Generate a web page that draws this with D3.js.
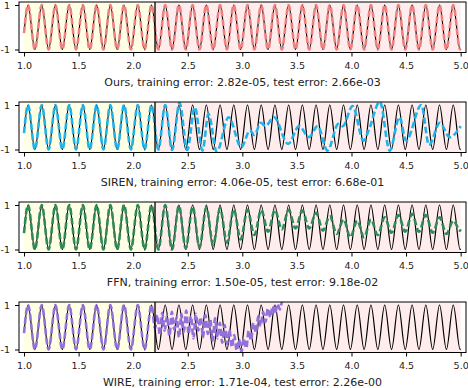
<!doctype html>
<meta charset="utf-8">

<style>
    body {
        margin: 0;
        background: #fff;
    }

    svg {
        display: block;
    }

    text {
        font-family: "DejaVu Sans", sans-serif;
        fill: #222;
    }
</style>

<div id="chart"></div>

<script src="https://cdn.jsdelivr.net/npm/d3@7"></script>

<script>

// target wave: x positions of its crests and troughs
let truthPeaks = [1.0367, 1.1624, 1.2881, 1.4137, 1.5394, 1.6650, 1.7907, 1.9164,
    2.0420, 2.1677, 2.2934, 2.4190, 2.5447, 2.6704, 2.7960, 2.9217, 3.0473, 3.1730,
    3.2987, 3.4243, 3.5500, 3.6757, 3.8013, 3.9270, 4.0527, 4.1783, 4.3040, 4.4296,
    4.5553, 4.6810, 4.8066, 4.9323]
let truthTroughs = [1.0996, 1.2252, 1.3509, 1.4765, 1.6022, 1.7279, 1.8535, 1.9792,
    2.1049, 2.2305, 2.3562, 2.4819, 2.6075, 2.7332, 2.8588, 2.9845, 3.1102, 3.2358,
    3.3615, 3.4872, 3.6128, 3.7385, 3.8642, 3.9898, 4.1155, 4.2412, 4.3668, 4.4925,
    4.6181, 4.7438, 4.8695, 4.9951]
let truthStart = [1.0, -0.26]
let truthEnd = [5.0, -0.97]

let splitX = 2.2
let xTicks = [1.0, 1.5, 2.0, 2.5, 3.0, 3.5, 4.0, 4.5, 5.0]
let yTicks = [-1, 1]

let models = ["Ours", "SIREN", "FFN", "WIRE"]
let trainErrors = ["2.82e-05", "4.06e-05", "1.50e-05", "1.71e-04"]
let testErrors = ["2.66e-03", "6.68e-01", "9.18e-02", "2.26e-00"]
let colors = ["#f08080", "#1fb3ec", "#2e8b57", "#9370db"]

// test side (x > 2.2) of each prediction; the training side follows the target
// FFN keeps the phase, only the crest / trough heights change
let ffnPeakY = [1.0, 0.97, 0.93, 0.9, 0.85, 0.8, 0.78, 0.78, 0.78, 0.78, 0.75,
    0.65, 0.5, 0.35, 0.3, 0.35, 0.45, 0.55, 0.6, 0.55, 0.45, 0.3]
let ffnTroughY = [-1.0, -1.0, -0.95, -0.9, -0.8, -0.7, -0.55, -0.35, -0.2, -0.1,
    -0.05, -0.05, -0.15, -0.3, -0.45, -0.45, -0.35, -0.25, -0.2, -0.2, -0.25, -0.3, -0.15]
let ffnEnd = [5.0, -0.1]

let sirenTest = [[2.2305, -1.0], [2.2934, 1.0], [2.3562, -1.02], [2.425, 1.1],
    [2.495, -1.02], [2.565, 0.9], [2.635, -1.05], [2.69, 0.6], [2.765, -1.1],
    [2.875, 0.45], [2.99, -0.9], [3.07, -0.15], [3.11, -0.35], [3.17, 0.2],
    [3.21, 0.05], [3.29, 0.45], [3.42, -0.75], [3.52, 0.05], [3.61, -0.45],
    [3.69, 0.05], [3.78, -1.05], [3.88, 0.15], [3.92, 0.05], [4.01, 0.95],
    [4.11, -0.6], [4.16, -0.1], [4.26, 1.15], [4.35, -1.05], [4.44, 0.45],
    [4.50, -0.6], [4.64, 1.0], [4.71, -0.8], [4.81, 0.2], [4.90, -0.45], [5.0, 0.05]]

// WIRE breaks into a jagged scribble and leaves the top of the axes near x = 3.37
let wireTest = [[2.200, -0.05], [2.222, 0.55], [2.244, -0.35], [2.266, 0.65],
    [2.288, -0.15], [2.310, 0.5], [2.332, -0.4], [2.354, 0.7], [2.376, -0.1],
    [2.398, 0.45], [2.420, -0.45], [2.442, 0.6], [2.464, -0.2], [2.486, 0.75],
    [2.508, -0.3], [2.530, 0.5], [2.552, -0.5], [2.574, 0.6], [2.596, -0.15],
    [2.618, 0.45], [2.640, -0.45], [2.662, 0.55], [2.684, -0.3], [2.706, 0.35],
    [2.728, -0.6], [2.750, 0.4], [2.772, -0.5], [2.794, 0.2], [2.816, -0.7],
    [2.838, 0.1], [2.860, -0.75], [2.882, -0.1], [2.904, -0.9], [2.926, -0.35],
    [2.948, -1.05], [2.970, -0.55], [2.992, -1.1], [3.014, -0.5], [3.036, -0.95],
    [3.058, -0.15], [3.080, -0.6], [3.102, 0.2], [3.124, -0.25], [3.146, 0.5],
    [3.168, 0.05], [3.190, 0.7], [3.212, 0.25], [3.234, 0.85], [3.256, 0.45],
    [3.278, 0.95], [3.300, 0.6], [3.322, 1.05], [3.344, 0.8], [3.366, 1.25], [3.390, 1.8]]

let width = 468
let height = 388

let svg = d3.select("#chart")
    .append("svg")
    .attr("width", width)
    .attr("height", height)

let x = d3.scaleLinear().domain([0.954, 5.049]).range([19, 466])

// merge crests / troughs into one sorted list of points
let truth = [truthStart]
    .concat(truthPeaks.map(d => [d, 1]))
    .concat(truthTroughs.map(d => [d, -1]))
    .concat([truthEnd])
    .sort((a, b) => a[0] - b[0])

let trainPart = truth.filter(d => d[0] < splitX)

let ffnTest = truthPeaks.filter(d => d > splitX).map((d, i) => [d, ffnPeakY[i]])
    .concat(truthTroughs.filter(d => d > splitX).map((d, i) => [d, ffnTroughY[i]]))
    .concat([ffnEnd])
    .sort((a, b) => a[0] - b[0])

let predictions = [
    truth,
    trainPart.concat(sirenTest),
    trainPart.concat(ffnTest),
    trainPart.concat(wireTest)
]

let panelHeight = 50.5

models.forEach((name, i) => {
    let top = 2 + 100 * i
    let bottom = top + panelHeight

    let y = d3.scaleLinear().domain([-1.135, 1.135]).range([bottom, top])
    let line = d3.line()
        .x(d => x(d[0]))
        .y(d => y(d[1]))
        .curve(d3.curveMonotoneX)

    let g = svg.append("g")

    g.append("clipPath")
        .attr("id", "clip" + i)
        .append("rect")
        .attr("x", x.range()[0])
        .attr("y", top)
        .attr("width", x.range()[1] - x.range()[0])
        .attr("height", panelHeight)

    // training / test shading
    g.append("rect")
        .attr("x", x(1.0))
        .attr("y", top)
        .attr("width", x(splitX) - x(1.0))
        .attr("height", panelHeight)
        .attr("fill", "#ffffe6")
    g.append("rect")
        .attr("x", x(splitX))
        .attr("y", top)
        .attr("width", x(5.0) - x(splitX))
        .attr("height", panelHeight)
        .attr("fill", "#ffeded")

    let plot = g.append("g").attr("clip-path", "url(#clip" + i + ")")

    plot.append("path")
        .attr("d", line(truth))
        .attr("fill", "none")
        .attr("stroke", "#000")
        .attr("stroke-width", 1.2)

    plot.append("path")
        .attr("d", line(predictions[i]))
        .attr("fill", "none")
        .attr("stroke", colors[i])
        .attr("stroke-width", 2.6)
        .attr("stroke-dasharray", "6.5,3")

    g.append("line")
        .attr("x1", x(splitX))
        .attr("x2", x(splitX))
        .attr("y1", top)
        .attr("y2", bottom)
        .attr("stroke", "#000")
        .attr("stroke-width", 1.3)

    g.append("rect")
        .attr("x", x.range()[0])
        .attr("y", top)
        .attr("width", x.range()[1] - x.range()[0])
        .attr("height", panelHeight)
        .attr("fill", "none")
        .attr("stroke", "#000")
        .attr("stroke-width", 1)

    let xAxis = d3.axisBottom(x)
        .tickValues(xTicks)
        .tickFormat(d3.format(".1f"))
        .tickSize(4)
        .tickPadding(6)
    g.append("g")
        .attr("transform", "translate(0," + bottom + ")")
        .call(xAxis)
        .call(a => a.select(".domain").remove())
        .selectAll("text")
        .style("font-size", "9.5px")
        .style("font-family", "'DejaVu Sans', sans-serif")
        .attr("fill", "#222")

    let yAxis = d3.axisLeft(y)
        .tickValues(yTicks)
        .tickFormat(d => String(d))
        .tickSize(4)
        .tickPadding(5)
    g.append("g")
        .attr("transform", "translate(" + x.range()[0] + ",0)")
        .call(yAxis)
        .call(a => a.select(".domain").remove())
        .selectAll("text")
        .style("font-size", "9.5px")
        .style("font-family", "'DejaVu Sans', sans-serif")
        .attr("fill", "#222")

    g.append("text")
        .attr("x", (x.range()[0] + x.range()[1]) / 2)
        .attr("y", bottom + 29.5)
        .attr("dy", "0.35em")
        .attr("text-anchor", "middle")
        .style("font-size", "11px")
        .text(name + ", training error: " + trainErrors[i] + ", test error: " + testErrors[i])
})

</script>
